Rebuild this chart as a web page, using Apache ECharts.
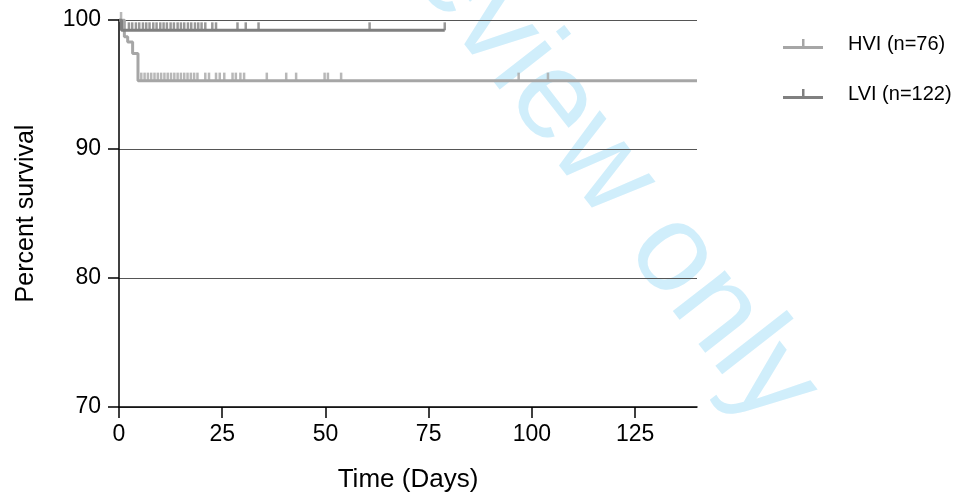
<!DOCTYPE html>
<html>
<head>
<meta charset="utf-8">
<title>Percent survival</title>
<script src="https://cdn.jsdelivr.net/npm/echarts@6/dist/echarts.min.js"></script>
<style>
  html, body { margin: 0; padding: 0; background: #fff; }
  #chart { width: 961px; height: 494px; }
</style>
</head>
<body>
<div id="chart"></div>
<script>
// Kaplan-Meier curves: [day, percent survival] at each step
const hviName = 'HVI (n=76)';
const lviName = 'LVI (n=122)';

const hviCurve = [[0, 100], [1.3, 98.7], [2.1, 98.3], [3.3, 97.4], [4.6, 95.3], [140, 95.3]];
const lviCurve = [[0, 100], [0.6, 99.2], [78.9, 99.2]];

// Censored observations (days)
const hviCensor = [0.5, 5.4, 6.2, 7.0, 7.8, 8.6, 9.4, 10.2, 11.0, 11.8, 12.6, 13.4, 14.2,
  15.0, 15.8, 16.6, 17.4, 18.2, 19.0, 20.9, 21.8, 23.5, 24.4, 25.5, 27.5, 28.3, 29.4,
  30.3, 35.8, 40.5, 42.9, 49.8, 50.6, 53.8, 96.8, 103.9];
const lviCensor = [2.4, 3.2, 4.1, 4.9, 5.8, 6.6, 7.4, 8.3, 9.1, 10.0, 10.8, 11.6, 12.5,
  13.3, 14.2, 15.0, 15.8, 16.7, 17.5, 18.4, 19.2, 20.0, 20.9, 22.6, 23.5, 28.7, 30.7,
  33.8, 60.7, 78.9];

const xTicks = [0, 25, 50, 75, 100, 125];
const yTicks = [70, 80, 90, 100];

const hviColor = '#a6a6a6';
const lviColor = '#808080';
const font = "'Liberation Sans', Arial, sans-serif";

// survival level of a step curve at a given day
function levelAt(curve, day) {
  let v = curve[0][1];
  for (const [t, s] of curve) { if (t <= day) v = s; }
  return v;
}

const tickMark = { symbol: 'rect', symbolSize: [2.5, 8], symbolOffset: [0, -4] };
const legendIcon = 'path://M0,7H40V10H0Z M19,0H21.5V7H19Z';

const chart = echarts.init(document.getElementById('chart'), null, { renderer: 'canvas' });
chart.setOption({
  animation: false,
  backgroundColor: '#fff',
  textStyle: { fontFamily: font, color: '#000' },
  graphic: [{
    type: 'text',
    z: -100,
    x: 793,
    y: 409,
    rotation: -52 * Math.PI / 180,
    style: {
      text: 'For peer review only',
      font: "125px 'Liberation Sans', Arial, sans-serif",
      fill: '#d0eefb',
      align: 'right',
      verticalAlign: 'middle'
    }
  }],
  grid: {
    left: 119, right: 264, top: 20, bottom: 87,
    containLabel: false,
    outerBoundsMode: 'none'
  },
  legend: {
    orient: 'vertical',
    left: 783,
    top: 34,
    padding: 0,
    itemWidth: 40,
    itemHeight: 10,
    itemGap: 30,
    icon: legendIcon,
    data: [hviName, lviName],
    textStyle: { fontFamily: font, fontSize: 20, color: '#000', padding: [0, 0, 0, 20] }
  },
  xAxis: {
    type: 'value',
    min: 0,
    max: 140,
    interval: 25,
    name: 'Time (Days)',
    nameLocation: 'middle',
    nameGap: 60,
    nameTextStyle: { fontFamily: font, fontSize: 26, color: '#000' },
    axisLine: { show: true, onZero: false, lineStyle: { color: '#000', width: 1.5 } },
    axisTick: { show: true, length: 11, customValues: xTicks, lineStyle: { color: '#000', width: 1.5 } },
    axisLabel: { customValues: xTicks, margin: 16, fontSize: 23, color: '#000', fontFamily: font },
    splitLine: { show: false }
  },
  yAxis: {
    type: 'value',
    min: 70,
    max: 100,
    interval: 10,
    name: 'Percent survival',
    nameLocation: 'middle',
    nameGap: 80,
    nameTextStyle: { fontFamily: font, fontSize: 25, color: '#000' },
    axisLine: { show: true, onZero: false, lineStyle: { color: '#000', width: 1.5 } },
    axisTick: { show: true, length: 11, customValues: yTicks, lineStyle: { color: '#000', width: 1.5 } },
    axisLabel: { customValues: yTicks, margin: 18, fontSize: 23, color: '#000', fontFamily: font },
    splitLine: { show: true, lineStyle: { color: '#555', width: 1.2 } }
  },
  series: [
    {
      name: hviName,
      type: 'line',
      step: 'end',
      symbol: 'none',
      color: hviColor,
      lineStyle: { color: hviColor, width: 3 },
      data: hviCurve,
      z: 3
    },
    {
      name: lviName,
      type: 'line',
      step: 'end',
      symbol: 'none',
      color: lviColor,
      lineStyle: { color: lviColor, width: 3 },
      data: lviCurve,
      z: 4
    },
    Object.assign({
      name: hviName,
      type: 'scatter',
      color: hviColor,
      itemStyle: { color: hviColor },
      data: hviCensor.map(d => [d, levelAt(hviCurve, d)]),
      z: 3
    }, tickMark),
    Object.assign({
      name: lviName,
      type: 'scatter',
      color: lviColor,
      itemStyle: { color: lviColor },
      data: lviCensor.map(d => [d, levelAt(lviCurve, d)]),
      z: 4
    }, tickMark)
  ]
});
</script>
</body>
</html>
